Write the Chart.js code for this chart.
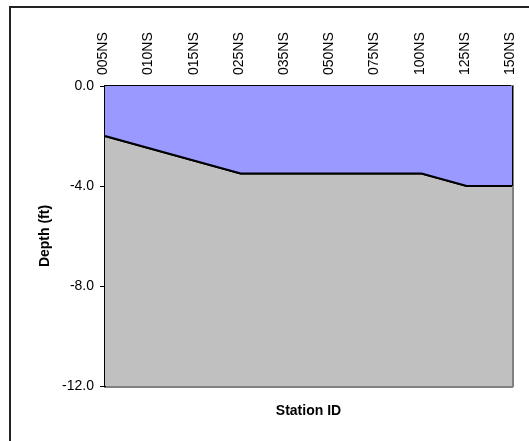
<!DOCTYPE html>
<html>
<head>
<meta charset="utf-8">
<script src="https://cdn.jsdelivr.net/npm/chart.js@4/dist/chart.umd.min.js"></script>
<style>
  html, body { margin: 0; padding: 0; background: #fff; overflow: hidden; }
  canvas { display: block; }
</style>
</head>
<body>
<canvas id="depthChart" width="529" height="441"></canvas>
<script>
// station ids along the top axis
var stations = ["005NS","010NS","015NS","025NS","035NS","050NS","075NS","100NS","125NS","150NS"];
// bottom depth at each station (ft)
var depth = [-2.0,-2.5,-3.0,-3.5,-3.5,-3.5,-3.5,-3.5,-4.0,-4.0];
// water surface and axis range
var surface = 0.0;
var yMin = -12, yMax = 0, yStep = 4;

var FONT = "'Liberation Sans', Arial, sans-serif";
var last = stations.length - 1;

// outer chart frame: only the left and top sides show in the picture
var framePlugin = {
	id: "frame",
	beforeDraw: function(c) {
		var ctx = c.ctx;
		ctx.save();
		ctx.fillStyle = "#fff";
		ctx.fillRect(0, 0, c.width, c.height);
		ctx.strokeStyle = "#222";
		ctx.lineWidth = 2;
		ctx.beginPath();
		ctx.moveTo(10, c.height);
		ctx.lineTo(10, 7);
		ctx.lineTo(c.width, 7);
		ctx.stroke();
		ctx.restore();
	}
};

var chart = new Chart("depthChart",
{
	type: "line",
	data:
	{
		labels: stations,
		datasets:
		[{
			label: "Water",
			data: depth,
			fill: "end",
			backgroundColor: "#9999FF",
			borderColor: "#000",
			borderWidth: 2,
			pointRadius: 0,
			tension: 0
		},
		{
			label: "Bottom",
			data: depth,
			fill: "start",
			backgroundColor: "#C0C0C0",
			borderColor: "#000",
			borderWidth: 2,
			pointRadius: 0,
			tension: 0
		},
		{
			// right edge of the water area
			label: "Edge",
			data: [{x: stations[last], y: surface}, {x: stations[last], y: depth[last]}],
			fill: false,
			borderColor: "#000",
			borderWidth: 2,
			pointRadius: 0
		}]
	},
	plugins: [framePlugin],
	options:
	{
		responsive: false,
		devicePixelRatio: 1,
		animation: false,
		layout: { padding: { left: 10, right: 17, top: 0, bottom: 0 } },
		plugins:
		{
			legend: { display: false },
			tooltip: { enabled: false }
		},
		scales:
		{
			x:
			{
				position: "top",
				z: 1,
				offset: false,
				afterFit: function(s) { s.height = 86; },
				grid: { display: true, drawOnChartArea: false, tickLength: -4, tickColor: "#000", color: "#000" },
				border: { color: "#000", width: 2 },
				ticks:
				{
					autoSkip: false, maxRotation: 90, minRotation: 90, padding: 15, labelOffset: 15,
					color: "#000", font: { family: FONT, size: 14 }
				}
			},
			x2:
			{
				position: "bottom",
				type: "category",
				labels: stations,
				offset: false,
				afterFit: function(s) { s.height = 55; },
				grid: { display: false },
				border: { color: "#808080", width: 3 },
				ticks: { display: false },
				title:
				{
					display: true, text: "Station ID", color: "#000",
					padding: { top: 0, bottom: 21 },
					font: { family: FONT, size: 14, weight: "bold" }
				}
			},
			y:
			{
				position: "left",
				z: 1,
				min: yMin,
				max: yMax,
				afterFit: function(s) { s.width = 95; },
				grid:
				{
					color: function(c) { return c.tick && c.tick.value === yMin ? "rgba(0,0,0,0)" : "#000"; },
					tickColor: "#000",
					tickLength: 5,
					lineWidth: 1
				},
				border: { color: "#000", width: 2 },
				ticks:
				{
					stepSize: yStep, padding: 6, color: "#000",
					font: { family: FONT, size: 14 },
					callback: function(v) { return Number(v).toFixed(1); }
				},
				title:
				{
					display: true, text: "Depth (ft)", color: "#000",
					padding: { top: 27, bottom: 0 },
					font: { family: FONT, size: 14, weight: "bold" }
				}
			},
			y2:
			{
				position: "right",
				min: yMin,
				max: yMax,
				afterFit: function(s) { s.width = 0; },
				grid: { display: false },
				border: { color: "#808080", width: 3 },
				ticks: { display: false }
			}
		}
	}
});
</script>
</body>
</html>
